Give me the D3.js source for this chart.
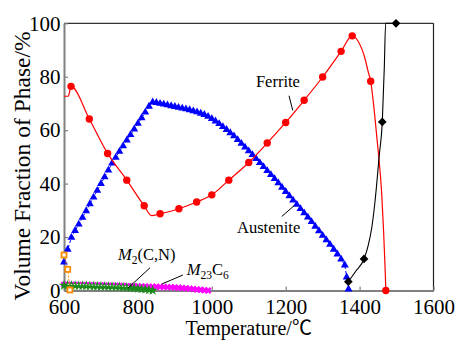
<!DOCTYPE html>
<html><head><meta charset="utf-8">
<script src="https://cdn.jsdelivr.net/npm/d3@7"></script>
<style>
body{margin:0;background:#fff}
svg text{font-family:"Liberation Serif","Times New Roman",serif !important;}
svg text.cjk{font-family:"Liberation Serif","Noto Sans CJK SC",serif !important;}
</style>
</head><body>
<svg id="c" width="455" height="342"></svg>
<script>
// ---------- data ----------
const xTicks = [600, 800, 1000, 1200, 1400, 1600];
const yTicks = [0, 20, 40, 60, 80, 100];

// Ferrite (red): smooth line and its markers
const ferriteLineT = [600, 611.7, 619, 668.5, 718, 770, 817, 837, 860, 911, 959, 1000, 1046, 1100, 1150, 1200, 1250, 1300, 1350, 1380, 1396, 1414, 1423, 1430, 1437, 1446, 1453, 1460, 1465, 1469, 1471];
const ferriteLineV = [72.7, 72.7, 76.4, 64.2, 51.3, 41.3, 31.7, 28.0, 28.7, 30.6, 33.1, 35.8, 41.3, 47.9, 55.2, 62.9, 71.2, 79.9, 89.5, 95.3, 93.3, 87.1, 82.0, 78.3, 70.8, 58.3, 48.3, 35.8, 22.0, 8.4, 0.0];
const ferriteMarkT = [619, 668.5, 718, 770, 817, 860, 911, 959, 1000, 1046, 1100, 1150, 1200, 1250, 1300, 1350, 1380, 1430, 1471];
const ferriteMarkV = [76.4, 64.2, 51.3, 41.3, 31.7, 28.7, 30.6, 33.1, 35.8, 41.3, 47.9, 55.2, 62.9, 71.2, 79.9, 89.5, 95.3, 78.3, 0.0];

// Austenite (blue triangles)
const austT = [600,610,620,630,640,650,660,670,680,690,700,710,720,730,740,750,760,770,780,790,800,810,820,830,840,850,860,870,880,890,900,910,920,930,940,950,960,970,980,990,1000,1010,1020,1030,1040,1050,1060,1070,1080,1090,1100,1110,1120,1130,1140,1150,1160,1170,1180,1190,1200,1210,1220,1230,1240,1250,1260,1270,1280,1290,1300,1310,1320,1330,1340,1350,1360,1365,1370];
const austV = [10.6,15.4,19.8,22.4,24.8,27.3,29.8,32.4,34.9,37.4,40.0,42.5,45.0,47.6,49.8,52.0,54.1,56.2,58.3,60.4,62.5,64.6,66.7,68.9,70.5,70.3,70.0,69.7,69.4,69.1,68.8,68.5,68.2,67.9,67.6,67.2,66.8,66.3,65.8,65.1,64.3,63.4,62.4,61.3,60.2,59.0,57.8,56.4,55.0,53.6,52.2,50.8,49.3,47.8,46.3,44.8,43.3,41.8,40.2,38.6,37.0,35.4,33.8,32.2,30.6,29.0,27.4,25.7,24.0,22.3,20.6,18.9,17.2,15.4,13.6,11.7,9.5,5.0,0.5];

// Liquid (black diamonds)
const liqLineT = [1369.5, 1390, 1412, 1423.5, 1432.7, 1441.7, 1453.3, 1461.4, 1466.8, 1470.5, 1498.5];
const liqLineV = [3.3, 7.3, 11.8, 17.0, 23.3, 33.3, 50.8, 63.1, 83.3, 100, 100];
const liqMarkT = [1369.5, 1412, 1461.4, 1498.5];
const liqMarkV = [3.3, 11.8, 63.1, 100];

// Orange squares
const orangeT = [600, 610, 616];
const orangeV = [13.3, 7.9, 0.2];

// M23C6 (magenta)
const m23T = [600,610,620,630,640,650,660,670,680,690,700,710,720,730,740,750,760,770,780,790,800,810,820,830,840,850,860,870,880,890,900,910,920,930,940,950,960,970,980,990];
const m23V = [2.2,2.2,2.15,2.1,2.1,2.05,2.0,2.0,1.95,1.9,1.9,1.85,1.8,1.8,1.75,1.7,1.7,1.65,1.6,1.6,1.55,1.5,1.5,1.45,1.4,1.4,1.35,1.3,1.25,1.2,1.15,1.05,0.95,0.85,0.7,0.55,0.4,0.25,0.12,0.0];

// M2(C,N) (green)
const m2T = [600,610,620,630,640,650,660,670,680,690,700,710,720,730,740,750,760,770,780,790,800,810,820,830,840];
const m2V = [1.9,1.9,1.85,1.85,1.8,1.8,1.75,1.7,1.65,1.6,1.55,1.5,1.45,1.4,1.35,1.3,1.2,1.1,1.0,0.9,0.75,0.6,0.45,0.25,0.05];

// annotations (data coordinates)
const labels = [
  {t: 1179, v: 76.2, anchor: "middle", parts: [["Ferrite", ""]]},
  {t: 1153.8, v: 21.4, anchor: "middle", parts: [["Austenite", ""]]},
  {t: 746, v: 11.6, anchor: "start", parts: [["M", "i"], ["2", "s"], ["(C,N)", ""]]},
  {t: 932, v: 5.8, anchor: "start", parts: [["M", "i"], ["23", "s"], ["C", ""], ["6", "s"]]}
];
const leaders = [
  [[1209, 72.9], [1219, 67.4]],
  [[1189.2, 27.7], [1222.5, 31.7]],
  [[832.7, 8.5], [773.2, 0.9]],
  [[922, 5.8], [864.4, 2.4]]
];

// ---------- drawing ----------
const svg = d3.select("#c");
const x = d3.scaleLinear().domain([600, 1600]).range([64, 433.5]);
const y = d3.scaleLinear().domain([0, 100]).range([290.5, 23.3]);

// frame top/right
svg.append("line").attr("x1", x(600)).attr("x2", x(1600)).attr("y1", y(100)).attr("y2", y(100))
  .attr("stroke", "#000").attr("stroke-width", 1);
svg.append("line").attr("x1", x(1600)).attr("x2", x(1600)).attr("y1", y(100)).attr("y2", y(0))
  .attr("stroke", "#222").attr("stroke-width", 1.2);

const ax = svg.append("g").attr("transform", `translate(0,${y(0)})`)
  .call(d3.axisBottom(x).tickValues(xTicks).tickSize(-4).tickSizeOuter(0).tickPadding(8.5).tickFormat(d3.format("d")));
const ay = svg.append("g").attr("transform", `translate(${x(600)},0)`)
  .call(d3.axisLeft(y).tickValues(yTicks).tickSize(-4).tickSizeOuter(0).tickPadding(3.5).tickFormat(d3.format("d")));
[ax, ay].forEach(g => {
  g.attr("font-family", null);
  g.select(".domain").attr("stroke", "#808080").attr("stroke-width", 2);
  g.selectAll(".tick line").attr("stroke", "#808080").attr("stroke-width", 1.2);
  g.selectAll(".tick text").attr("font-size", 21).attr("fill", "#000");
});

const line = d3.line().x(d => x(d[0])).y(d => y(d[1]));
const zip = (a, b) => a.map((t, i) => [t, b[i]]);

// magenta M23C6
const m23 = zip(m23T, m23V);
svg.append("g").selectAll("path").data(m23).join("path")
  .attr("d", d3.symbol(d3.symbolCross, 30))
  .attr("transform", d => `translate(${x(d[0])},${y(d[1])}) rotate(45)`)
  .attr("fill", "#ff00ff");
// green M2(C,N)
const m2 = zip(m2T, m2V);
svg.append("g").selectAll("path").data(m2).join("path")
  .attr("d", d3.symbol(d3.symbolStar, 34))
  .attr("transform", d => `translate(${x(d[0])},${y(d[1])})`)
  .attr("fill", "#1a8a1a");
svg.append("path").datum(m2.slice(1, 19)).attr("d", line).attr("fill", "none")
  .attr("stroke", "#fff").attr("stroke-width", 0.9).attr("stroke-dasharray", "1.5,1.5")
  .attr("transform", "translate(0,-1)");

// austenite
const aus = zip(austT, austV);
svg.append("path").datum(aus).attr("d", line).attr("fill", "none")
  .attr("stroke", "#0000ff").attr("stroke-width", 1).attr("stroke-dasharray", "3,2");
svg.append("g").selectAll("path").data(aus).join("path")
  .attr("d", d3.symbol(d3.symbolTriangle, 27))
  .attr("transform", d => `translate(${x(d[0])},${y(d[1])})`)
  .attr("fill", "#0000ff");

// orange
const org = zip(orangeT, orangeV);
svg.append("path").datum(org).attr("d", line).attr("fill", "none")
  .attr("stroke", "#ff8c00").attr("stroke-width", 1).attr("stroke-dasharray", "2,1.5");
svg.append("g").selectAll("rect").data(org).join("rect")
  .attr("x", d => x(d[0]) - 2.5).attr("y", d => y(d[1]) - 2.5).attr("width", 5).attr("height", 5)
  .attr("fill", "#fff").attr("stroke", "#ff8c00").attr("stroke-width", 1.8);

// ferrite
svg.append("path").datum(zip(ferriteLineT, ferriteLineV)).attr("d", line.curve(d3.curveMonotoneX)).attr("fill", "none")
  .attr("stroke", "#ff0000").attr("stroke-width", 1.2);
line.curve(d3.curveLinear);
svg.append("g").selectAll("circle").data(zip(ferriteMarkT, ferriteMarkV)).join("circle")
  .attr("cx", d => x(d[0])).attr("cy", d => y(d[1])).attr("r", 3.7).attr("fill", "#ff0000");

// liquid
svg.append("path").datum(zip(liqLineT, liqLineV)).attr("d", line.curve(d3.curveMonotoneX)).attr("fill", "none")
  .attr("stroke", "#000").attr("stroke-width", 1.1);
line.curve(d3.curveLinear);
svg.append("g").selectAll("path").data(zip(liqMarkT, liqMarkV)).join("path")
  .attr("d", d3.symbol(d3.symbolSquare, 38))
  .attr("transform", d => `translate(${x(d[0])},${y(d[1])}) rotate(45)`)
  .attr("fill", "#000");

// leaders
svg.append("g").selectAll("line").data(leaders).join("line")
  .attr("x1", d => x(d[0][0])).attr("y1", d => y(d[0][1]))
  .attr("x2", d => x(d[1][0])).attr("y2", d => y(d[1][1]))
  .attr("stroke", "#000").attr("stroke-width", 1);

// labels
labels.forEach(l => {
  const t = svg.append("text").attr("x", x(l.t)).attr("y", y(l.v))
    .attr("text-anchor", l.anchor).attr("font-size", 16.5).attr("fill", "#000");
  let sub = false;
  l.parts.forEach(([s, k]) => {
    const ts = t.append("tspan").text(s);
    if (k === "i") ts.attr("font-style", "italic");
    if (k === "s") { ts.attr("font-size", 11.5).attr("dy", sub ? 0 : 4); sub = true; }
    else { ts.attr("dy", sub ? -4 : 0); sub = false; }
  });
});

// axis titles
svg.append("text").attr("class", "cjk").attr("x", (x(600) + x(1600)) / 2).attr("y", 335)
  .attr("text-anchor", "middle").attr("font-size", 20).attr("fill", "#000")
  .text("Temperature/℃");
svg.append("text").attr("transform", `translate(30,166) rotate(-90)`)
  .attr("text-anchor", "middle").attr("font-size", 23.5).attr("fill", "#000")
  .text("Volume Fraction of Phase/%");
</script>
</body></html>
